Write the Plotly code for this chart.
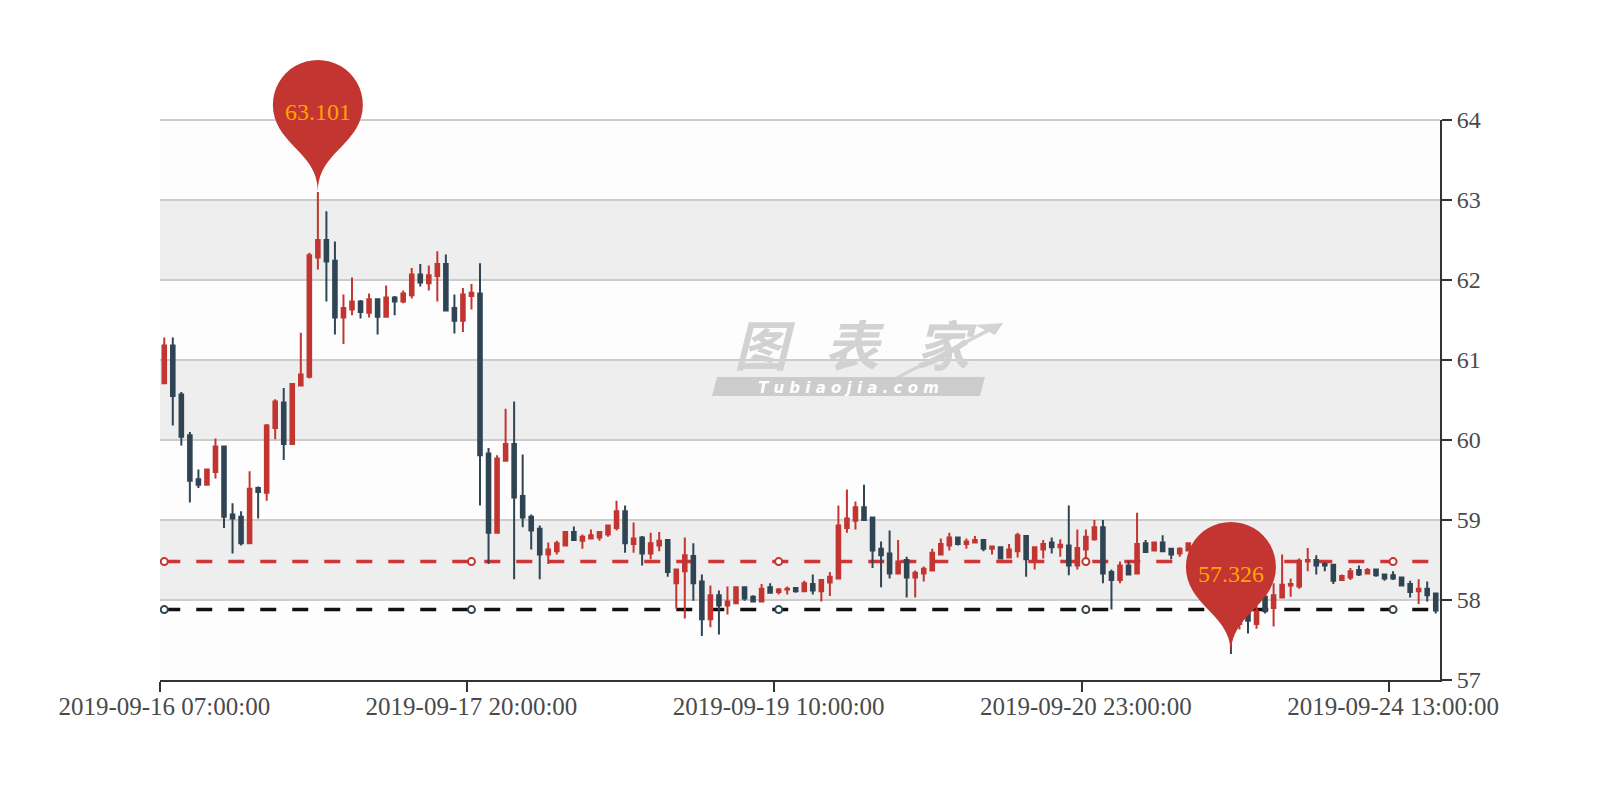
"""K-line chart with max/min pins and two dashed reference lines"""

import numpy as np
import plotly.graph_objects as go

# Colours of the chart
red = "#c23531"
dark = "#2f4554"
dash_red = "#cc3636"
dash_black = "#111111"
axis_color = "#333333"
label_color = "#4a4a4a"
label_font = "Liberation Serif"

# Values, one candle per category
opens = [
    60.71, 61.18, 60.57, 60.06, 59.51, 59.44, 59.60, 59.92, 59.07, 59.04,
    58.71, 59.40, 59.34, 60.15, 60.47, 59.95, 60.68, 60.79, 62.28, 62.50,
    62.24, 61.53, 61.63, 61.73, 61.59, 61.76, 61.54, 61.78, 61.73, 61.81,
    62.07, 61.96, 62.05, 62.20, 61.65, 61.49, 61.80, 61.83, 59.83, 58.84,
    59.74, 59.95, 59.30, 59.04, 58.89, 58.57, 58.61, 58.68, 58.85, 58.74,
    58.77, 58.78, 58.82, 58.90, 59.11, 58.70, 58.78, 58.58, 58.68, 58.75,
    58.21, 58.36, 58.55, 58.23, 57.76, 58.06, 57.93, 57.96, 58.16, 58.04,
    57.98, 58.16, 58.10, 58.13, 58.15, 58.11, 58.20, 58.11, 58.22, 58.27,
    58.90, 58.99, 59.16, 59.03, 58.64, 58.58, 58.33, 58.50, 58.28, 58.33,
    58.37, 58.57, 58.68, 58.78, 58.70, 58.72, 58.75, 58.64, 58.66, 58.53,
    58.61, 58.80, 58.51, 58.63, 58.72, 58.66, 58.68, 58.43, 58.63, 58.76,
    58.91, 58.35, 58.25, 58.43, 58.33, 58.71, 58.62, 58.72, 58.64, 58.58,
    58.62, 58.66, 58.48, 58.28, 58.02, 57.78, 57.70, 57.85, 57.70, 58.04,
    57.90, 58.03, 58.18, 58.17, 58.48, 58.50, 58.45, 58.44, 58.25, 58.28,
    58.375, 58.33, 58.38, 58.32, 58.31, 58.28, 58.20, 58.11, 58.14, 58.08,
]
closes = [
    61.18, 60.55, 60.04, 59.49, 59.44, 59.63, 59.92, 59.04, 59.02, 58.71,
    59.39, 59.35, 60.18, 60.48, 59.95, 60.70, 60.82, 62.31, 62.50, 62.23,
    61.53, 61.65, 61.73, 61.60, 61.76, 61.54, 61.78, 61.73, 61.83, 62.07,
    61.97, 62.06, 62.20, 61.62, 61.49, 61.82, 61.84, 59.81, 58.84, 59.77,
    59.95, 59.28, 59.03, 58.87, 58.57, 58.63, 58.71, 58.85, 58.75, 58.79,
    58.81, 58.85, 58.93, 59.11, 58.71, 58.77, 58.58, 58.71, 58.74, 58.35,
    58.38, 58.56, 58.21, 57.76, 58.06, 57.93, 57.98, 58.16, 58.02, 57.98,
    58.14, 58.09, 58.13, 58.14, 58.11, 58.21, 58.12, 58.25, 58.29, 58.93,
    59.02, 59.16, 59.00, 58.62, 58.56, 58.33, 58.48, 58.28, 58.34, 58.39,
    58.59, 58.70, 58.78, 58.70, 58.73, 58.75, 58.64, 58.67, 58.52, 58.63,
    58.81, 58.51, 58.66, 58.70, 58.66, 58.69, 58.43, 58.65, 58.79, 58.91,
    58.33, 58.25, 58.43, 58.32, 58.70, 58.60, 58.72, 58.61, 58.57, 58.64,
    58.71, 58.50, 58.30, 58.05, 57.75, 57.55, 57.85, 57.74, 57.86, 57.86,
    58.06, 58.19, 58.20, 58.49, 58.50, 58.43, 58.43, 58.24, 58.30, 58.36,
    58.32, 58.375, 58.31, 58.27, 58.27, 58.18, 58.10, 58.14, 58.06, 57.87,
]
highs = [
    61.28, 61.28, 60.60, 60.10, 59.63, 59.63, 60.02, 59.93, 59.21, 59.11,
    59.61, 59.42, 60.20, 60.51, 60.65, 60.70, 61.34, 62.34, 63.101, 62.86,
    62.48, 61.82, 62.03, 61.75, 61.83, 61.76, 61.93, 61.80, 61.87, 62.15,
    62.20, 62.18, 62.36, 62.32, 61.82, 61.90, 61.95, 62.21, 59.90, 59.81,
    60.39, 60.48, 59.82, 59.07, 58.93, 58.72, 58.74, 58.85, 58.92, 58.82,
    58.88, 58.85, 58.93, 59.24, 59.18, 58.97, 58.80, 58.84, 58.85, 58.76,
    58.38, 58.78, 58.71, 58.32, 58.18, 58.12, 58.17, 58.16, 58.16, 58.06,
    58.20, 58.21, 58.15, 58.17, 58.16, 58.24, 58.32, 58.25, 58.35, 59.18,
    59.38, 59.23, 59.44, 59.04, 58.73, 58.87, 58.75, 58.54, 58.37, 58.42,
    58.64, 58.77, 58.84, 58.79, 58.77, 58.80, 58.75, 58.67, 58.67, 58.70,
    58.84, 58.80, 58.66, 58.75, 58.78, 58.76, 59.18, 58.88, 58.88, 59.00,
    59.00, 58.38, 58.48, 58.49, 59.09, 58.75, 58.72, 58.81, 58.64, 58.66,
    58.72, 58.68, 58.50, 58.30, 58.05, 57.85, 57.95, 57.95, 58.00, 58.10,
    58.21, 58.57, 58.27, 58.52, 58.65, 58.56, 58.47, 58.44, 58.32, 58.40,
    58.43, 58.40, 58.38, 58.32, 58.36, 58.29, 58.24, 58.26, 58.23, 58.08,
]
lows = [
    60.71, 60.18, 59.93, 59.22, 59.40, 59.43, 59.52, 58.90, 58.58, 58.68,
    58.71, 59.02, 59.24, 60.01, 59.75, 59.95, 60.68, 60.77, 62.13, 61.73,
    61.32, 61.20, 61.56, 61.52, 61.53, 61.32, 61.54, 61.56, 61.71, 61.77,
    61.92, 61.87, 61.73, 61.62, 61.33, 61.35, 61.63, 59.18, 58.45, 58.84,
    59.74, 58.26, 58.91, 58.63, 58.26, 58.45, 58.57, 58.67, 58.75, 58.64,
    58.77, 58.74, 58.79, 58.87, 58.59, 58.59, 58.43, 58.51, 58.61, 58.29,
    57.89, 57.77, 57.99, 57.55, 57.66, 57.57, 57.82, 57.95, 57.99, 57.98,
    57.98, 58.09, 58.07, 58.07, 58.09, 58.11, 58.07, 57.98, 58.05, 58.26,
    58.84, 58.88, 59.00, 58.40, 58.16, 58.27, 58.33, 58.03, 58.03, 58.23,
    58.37, 58.57, 58.62, 58.68, 58.64, 58.72, 58.61, 58.57, 58.51, 58.53,
    58.53, 58.29, 58.38, 58.52, 58.58, 58.54, 58.31, 58.38, 58.51, 58.74,
    58.21, 57.88, 58.21, 58.31, 58.33, 58.59, 58.61, 58.61, 58.51, 58.54,
    58.61, 58.45, 58.25, 58.00, 57.70, 57.326, 57.63, 57.58, 57.64, 57.83,
    57.67, 58.02, 58.04, 58.14, 58.36, 58.32, 58.36, 58.20, 58.25, 58.25,
    58.30, 58.33, 58.29, 58.24, 58.25, 58.18, 58.03, 57.95, 57.98, 57.83,
]

tick_index = [0, 36, 72, 108, 144]
tick_labels = [
    "2019-09-16 07:00:00",
    "2019-09-17 20:00:00",
    "2019-09-19 10:00:00",
    "2019-09-20 23:00:00",
    "2019-09-24 13:00:00",
]
y_ticks = [57, 58, 59, 60, 61, 62, 63, 64]
line_red_value = 58.48
line_black_value = 57.88

x = list(range(len(opens)))
x_range = [-0.5, len(opens) - 0.5]
y_range = [y_ticks[0], y_ticks[-1]]


def pin_path(r=45, d=87):
    """Path of the pin in pixels, measured from the tip"""
    dy = r * r / d
    angle = np.arcsin(dy / r)
    dx = np.cos(angle) * r
    cp1 = r * 0.6
    cp2 = r * 0.7
    # Bezier pieces for the arc, going over the top of the circle
    inicio = np.pi + angle
    fin = -angle
    n = 8
    paso = (fin - inicio) / n
    k = 4 / 3 * np.tan(paso / 4)
    path = f"M {-dx:.2f} {d - dy:.2f}"
    for i in range(n):
        a0 = inicio + i * paso
        a1 = a0 + paso
        x0, y0 = r * np.cos(a0), d + r * np.sin(a0)
        x3, y3 = r * np.cos(a1), d + r * np.sin(a1)
        x1, y1 = x0 - k * r * np.sin(a0), y0 + k * r * np.cos(a0)
        x2, y2 = x3 + k * r * np.sin(a1), y3 - k * r * np.cos(a1)
        path += f" C {x1:.2f} {y1:.2f} {x2:.2f} {y2:.2f} {x3:.2f} {y3:.2f}"
    tan_x, tan_y = np.sin(angle), np.cos(angle)
    path += (f" C {dx - tan_x * cp1:.2f} {d - dy - tan_y * cp1:.2f} 0 {cp2:.2f} 0 0"
             f" C 0 {cp2:.2f} {-dx + tan_x * cp1:.2f} {d - dy - tan_y * cp1:.2f}"
             f" {-dx:.2f} {d - dy:.2f} Z")
    return path


fig = go.Figure()

# The lines stay on the base axes so the candles are drawn over them
for value, color, border in [(line_red_value, dash_red, red),
                             (line_black_value, dash_black, dark)]:
    fig.add_trace(go.Scatter(x=[x[0], x[-1]], y=[value, value], mode="lines",
                             line=dict(color=color, width=3.5, dash="16px,16px"),
                             showlegend=False, hoverinfo="skip"))
    fig.add_trace(go.Scatter(x=tick_index, y=[value] * len(tick_index), mode="markers",
                             marker=dict(size=7, color="white",
                                         line=dict(color=border, width=2)),
                             showlegend=False, hoverinfo="skip"))

fig.add_trace(go.Candlestick(x=x, open=opens, high=highs, low=lows, close=closes,
                             xaxis="x2", yaxis="y2", whiskerwidth=0, showlegend=False,
                             increasing=dict(line=dict(color=red, width=2), fillcolor=red),
                             decreasing=dict(line=dict(color=dark, width=2), fillcolor=dark)))

# Alternating bands behind the grid
for i in range(len(y_ticks) - 1):
    fig.add_shape(type="rect", xref="paper", yref="y", x0=0, x1=1,
                  y0=y_ticks[i], y1=y_ticks[i + 1], layer="below", line_width=0,
                  fillcolor="#eeeeee" if i % 2 == 1 else "#fdfdfd")

# Plotly leaves out the grid line at the very end of the axis
fig.add_shape(type="line", xref="paper", yref="paper", x0=0, x1=1, y0=1, y1=1,
              layer="below", line=dict(color="#cccccc", width=2))

# Pins at the highest and lowest values, on paper so they can leave the plot area
for index, value in [(int(np.argmax(highs)), max(highs)), (int(np.argmin(lows)), min(lows))]:
    fig.add_shape(type="path", xref="paper", yref="paper", xsizemode="pixel", ysizemode="pixel",
                  xanchor=(index - x_range[0]) / (x_range[1] - x_range[0]),
                  yanchor=(value - y_range[0]) / (y_range[1] - y_range[0]),
                  path=pin_path(), fillcolor=red, line_width=0)
    fig.add_annotation(x=index, y=value, xref="x", yref="y", text=f"{value:.3f}",
                       showarrow=False, yshift=80,
                       font=dict(family=label_font, size=24, color="#ffa500"))


# Watermark of the source, measured in pixels of the page
def px_x(value):
    return (value - 160) / 1280


def px_y(value):
    return (680 - value) / 560


fig.add_shape(type="path", xref="paper", yref="paper", fillcolor="#cccccc", line_width=0,
              path=(f"M {px_x(717)} {px_y(377)} L {px_x(985)} {px_y(377)} "
                    f"L {px_x(980)} {px_y(396)} L {px_x(712)} {px_y(396)} Z"))
fig.add_shape(type="path", xref="paper", yref="paper", fillcolor="#d4d4d4", line_width=0,
              path=(f"M {px_x(895)} {px_y(377)} L {px_x(985)} {px_y(330)} L {px_x(975)} {px_y(325)} "
                    f"L {px_x(1003)} {px_y(323)} L {px_x(995)} {px_y(335)} L {px_x(989)} {px_y(332)} "
                    f"L {px_x(902)} {px_y(377)} Z"))
fig.add_annotation(x=px_x(855), y=px_y(342.5), xref="paper", yref="paper", showarrow=False,
                   text="<b><i>图\u00a0\u00a0\u00a0表\u00a0\u00a0\u00a0家</i></b>",
                   font=dict(family="Noto Sans CJK SC", size=54, color="#d2d2d2"))
fig.add_annotation(x=px_x(848), y=px_y(387.5), xref="paper", yref="paper", showarrow=False,
                   text="<b><i>T u b i a o j i a . c o m</i></b>",
                   font=dict(family="DejaVu Sans", size=15, color="white"))

fig.update_layout(
    width=1600,
    height=800,
    margin=dict(l=160, r=160, t=120, b=120),
    paper_bgcolor="white",
    plot_bgcolor="white",
    boxgap=0.4,
    font=dict(family=label_font, size=24, color=label_color),
    xaxis=dict(range=x_range, tickmode="array", tickvals=tick_index, ticktext=tick_labels,
               ticks="", showgrid=False, zeroline=False, showline=False, tickangle=0,
               ticklabelstandoff=9, tickfont=dict(size=25, color=label_color)),
    xaxis2=dict(range=x_range, overlaying="x", side="bottom", anchor="y",
                tickmode="array", tickvals=[i - 0.5 for i in tick_index],
                showticklabels=False, ticks="outside", ticklen=10, tickwidth=2,
                tickcolor=axis_color, showgrid=False, zeroline=False, showline=True,
                linecolor=axis_color, linewidth=2, rangeslider=dict(visible=False)),
    yaxis=dict(range=y_range, side="right", tickmode="array", tickvals=y_ticks,
               ticks="outside", ticklen=10, tickwidth=2, tickcolor=axis_color,
               showline=True, linecolor=axis_color, linewidth=2, zeroline=False,
               gridcolor="#cccccc", gridwidth=2, tickfont=dict(size=24, color=label_color)),
    yaxis2=dict(range=y_range, overlaying="y", side="right", visible=False, showgrid=False),
)

fig.write_html("out.html", config=dict(displayModeBar=False),
               post_script="document.body.style.margin='0';")
